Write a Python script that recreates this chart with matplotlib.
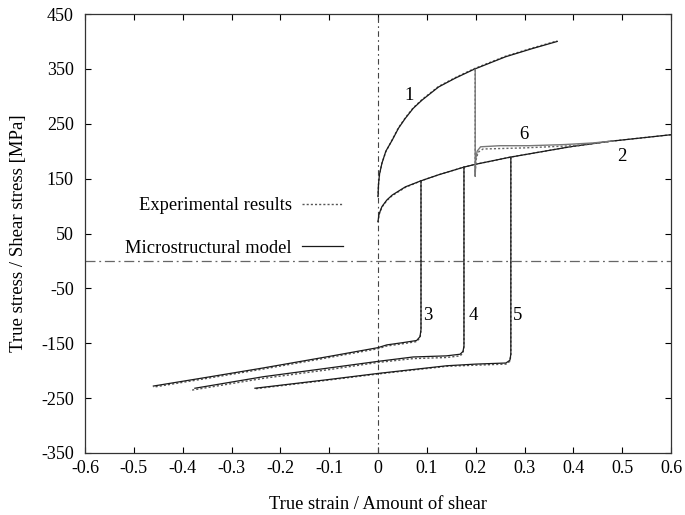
import matplotlib
matplotlib.use('Agg')
import matplotlib.pyplot as plt

plt.rcParams['font.family'] = ['Liberation Serif', 'DejaVu Serif']
plt.rcParams['axes.unicode_minus'] = False

# curve 1: loading in one direction (model / experiment)
c1_x = [0.0, 0.001, 0.003, 0.008, 0.016, 0.029, 0.042, 0.056, 0.072, 0.09, 0.124, 0.158, 0.196, 0.261, 0.316, 0.367]
c1_y = [118, 140, 158, 178, 200, 220, 242, 260, 278, 293, 317, 333, 349, 372, 387, 400]
c1e_x = [0.0, 0.001, 0.003, 0.008, 0.016, 0.029, 0.042, 0.056, 0.072, 0.09, 0.124, 0.158, 0.196, 0.261, 0.316, 0.367]
c1e_y = [116, 139, 157, 178, 199, 221, 243, 261, 279, 294, 318, 334, 350, 373, 388, 401]

# curve 2: monotonic loading
c2_x = [0.0, 0.002, 0.008, 0.018, 0.029, 0.056, 0.088, 0.124, 0.176, 0.199, 0.27, 0.393, 0.475, 0.6]
c2_y = [72, 85, 99, 111, 120, 135, 146, 157, 171, 176, 189, 208, 218, 230]
c2e_x = [0.0, 0.002, 0.008, 0.018, 0.029, 0.056, 0.088, 0.124, 0.176, 0.199, 0.27, 0.393, 0.475, 0.6]
c2e_y = [70, 84, 98, 110, 119, 134, 146, 157, 171, 176, 189, 208, 218, 230]

# curves 3-5: reversal after pre-strain
c3_x = [0.088, 0.088, 0.086, 0.079, 0.05, 0.018, 0.0, -0.1, -0.235, -0.35, -0.46]
c3_y = [146, -125, -138, -145, -149, -153, -158, -174, -195, -212, -228]
c3e_x = [0.088, 0.088, 0.086, 0.079, 0.05, 0.018, 0.0, -0.1, -0.235, -0.35, -0.46]
c3e_y = [146, -127, -140, -147, -151, -155, -160, -176, -197, -214, -230]

c4_x = [0.176, 0.176, 0.174, 0.168, 0.14, 0.072, 0.0, -0.1, -0.235, -0.375]
c4_y = [171, -155, -165, -170, -173, -175, -183, -195, -211, -232]
c4e_x = [0.176, 0.176, 0.174, 0.168, 0.14, 0.072, 0.0, -0.1, -0.235, -0.385]
c4e_y = [171, -157, -168, -173, -176, -178, -185, -198, -214, -236]

c5_x = [0.272, 0.272, 0.27, 0.262, 0.2, 0.141, 0.0, -0.1, -0.252]
c5_y = [189, -170, -181, -186, -188, -191, -205, -216, -232]
c5e_x = [0.272, 0.272, 0.27, 0.262, 0.2, 0.141, 0.0, -0.1, -0.252]
c5e_y = [189, -172, -183, -188, -190, -192, -206, -217, -233]

# curve 6: change of path after pre-strain of curve 1
c6_x = [0.199, 0.199, 0.2, 0.203, 0.21, 0.25, 0.31, 0.38, 0.44, 0.48]
c6_y = [349, 154, 185, 200, 208, 210, 210, 212, 215, 218.5]
c6e_x = [0.199, 0.199, 0.201, 0.205, 0.215, 0.3, 0.4, 0.48]
c6e_y = [349, 160, 185, 198, 204, 206, 210, 218.5]

labels = ['1', '2', '3', '4', '5', '6']
label_x = [0.064, 0.499, 0.102, 0.195, 0.285, 0.299]
label_y = [302, 190, -100, -100, -100, 231]

fig = plt.figure(figsize=(6.85, 5.15), dpi=100)
ax = fig.add_axes([0.1241, 0.1204, 0.8555, 0.8524])

ax.axhline(0, color='#666666', lw=0.9, ls='-.', dashes=(8, 3, 1.5, 3))
ax.axvline(0, color='#444444', lw=0.8, ls='-.', dashes=(5, 3, 1.5, 3))

model_col = '#1a1a1a'
exp_col = '#555555'
for mx, my, ex, ey in [(c1_x, c1_y, c1e_x, c1e_y), (c2_x, c2_y, c2e_x, c2e_y),
                       (c3_x, c3_y, c3e_x, c3e_y), (c4_x, c4_y, c4e_x, c4e_y),
                       (c5_x, c5_y, c5e_x, c5e_y)]:
    ax.plot(ex, ey, color=exp_col, lw=1.0, ls=(0, (1.5, 1.5)))
    ax.plot(mx, my, color=model_col, lw=0.9)
ax.plot(c6e_x, c6e_y, color='#666666', lw=1.0, ls=(0, (1.5, 1.5)))
ax.plot(c6_x, c6_y, color='#777777', lw=1.0)

for t, x, y in zip(labels, label_x, label_y):
    ax.text(x, y, t, fontsize=13.5, ha='center', va='center')

# legend entries (label on the left of the sample line)
h_exp, = ax.plot([], [], color=exp_col, lw=1.0, ls=(0, (1.5, 1.5)), label='Experimental results')
h_mod, = ax.plot([], [], color=model_col, lw=0.9, label='Microstructural model')
ax.legend(handles=[h_exp, h_mod], markerfirst=False, frameon=False, fontsize=13.3,
          loc='center right', bbox_to_anchor=(0.440, 0.515), labelspacing=1.37,
          handlelength=2.2, handletextpad=0.55, borderpad=0, borderaxespad=0)

ax.set_xlim(-0.6, 0.6)
ax.set_ylim(-350, 450)
ax.set_xticks([-0.6, -0.5, -0.4, -0.3, -0.2, -0.1, 0, 0.1, 0.2, 0.3, 0.4, 0.5, 0.6])
ax.set_xticklabels(['-0.6', '-0.5', '-0.4', '-0.3', '-0.2', '-0.1', '0', '0.1', '0.2', '0.3', '0.4', '0.5', '0.6'])
ax.set_yticks([-350, -250, -150, -50, 50, 150, 250, 350, 450])
ax.tick_params(direction='in', top=True, right=True, length=4, width=0.8, labelsize=13)
ax.tick_params(axis='x', pad=5)
ax.tick_params(axis='y', pad=8)
for s in ax.spines.values():
    s.set_linewidth(0.9)
    s.set_color('#333333')
ax.set_xlabel('True strain / Amount of shear', fontsize=13.3, labelpad=14)
ax.set_ylabel('True stress / Shear stress [MPa]', fontsize=13.5, labelpad=10)

fig.savefig('out.png', dpi=100)
